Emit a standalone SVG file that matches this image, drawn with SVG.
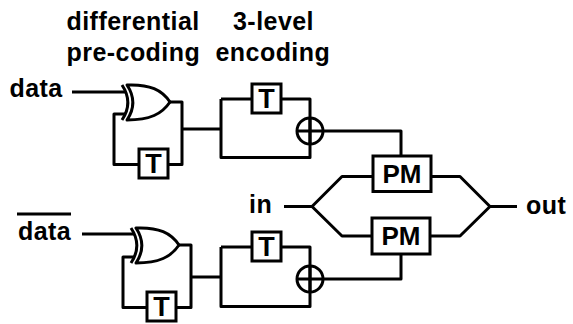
<svg xmlns="http://www.w3.org/2000/svg" width="573" height="324" viewBox="0 0 573 324">
<style>
.w{fill:none;stroke:#000;stroke-width:3;stroke-linejoin:round}
.b{fill:#fff;stroke:#000;stroke-width:3}
.l{font-family:"Liberation Sans",Arial,sans-serif;font-weight:700;font-size:25px;letter-spacing:.45px;fill:#000}
.t{font-family:"Liberation Sans",Arial,sans-serif;font-weight:700;font-size:27px;fill:#000;text-anchor:middle}
.p{font-family:"Liberation Sans",Arial,sans-serif;font-weight:700;font-size:26px;fill:#000;text-anchor:middle}
</style>
<defs>
<g id="xor"><path class="w" d="M127 85C150 84 162 90 170 102C162 114 150 120 127 120C135 108 135 97 127 85Z"/><path class="w" d="M122 85C130 97 130 108 122 120"/></g>
<g id="tb"><rect class="b" x="0" y="0" width="29" height="29"/><text class="t" x="14.500" y="24">T</text></g>
</defs>
<g id="connectors">
<path class="w" d="M72 92H126M170 102H182V164.500H168M139 164.500H114V114H126M182 129H221M221 99H252M281 99H310V157.500H221V99M323 131H401V156M284 206.500H312L342 176.500H373M312 206.500L342 236H371M431 176.500H460L490 206.500H517M430 236H460L490 206.500"/>
<path class="w" d="M82 234H135M179 245H191V307.500H176M147 307.500H123V257H135M191 277H221M221 247H252M281 247H310V306.500H221V247M323 279H401V254"/>
<path class="w" d="M17 214H71"/>
</g>
<g id="xor1"><use href="#xor"/></g>
<g id="xor2"><use href="#xor" transform="translate(9,143)"/></g>
<g id="t1"><use href="#tb" x="139" y="149"/></g>
<g id="t2"><use href="#tb" x="252" y="84"/></g>
<g id="t3"><use href="#tb" x="147" y="292"/></g>
<g id="t4"><use href="#tb" x="252" y="232"/></g>
<g id="add1"><circle class="w" cx="310" cy="131" r="13"/><path class="w" d="M297 131H323M310 118V144"/></g>
<g id="add2"><circle class="w" cx="310" cy="279" r="13"/><path class="w" d="M297 279H323M310 266V292"/></g>
<g id="pm1"><rect class="b" x="373" y="156" width="58" height="35.500"/><text class="p" x="402" y="183">PM</text></g>
<g id="pm2"><rect class="b" x="372" y="218" width="58" height="36"/><text class="p" x="401" y="245">PM</text></g>
<g id="labels">
<text class="l" x="66.500" y="30">differential</text>
<text class="l" x="66.500" y="61">pre-coding</text>
<text class="l" x="233" y="30">3-level</text>
<text class="l" x="215.500" y="61">encoding</text>
<text class="l" x="9.500" y="97">data</text>
<text class="l" x="18" y="240">data</text>
<text class="l" x="249" y="213">in</text>
<text class="l" x="526" y="214">out</text>
</g>
</svg>
